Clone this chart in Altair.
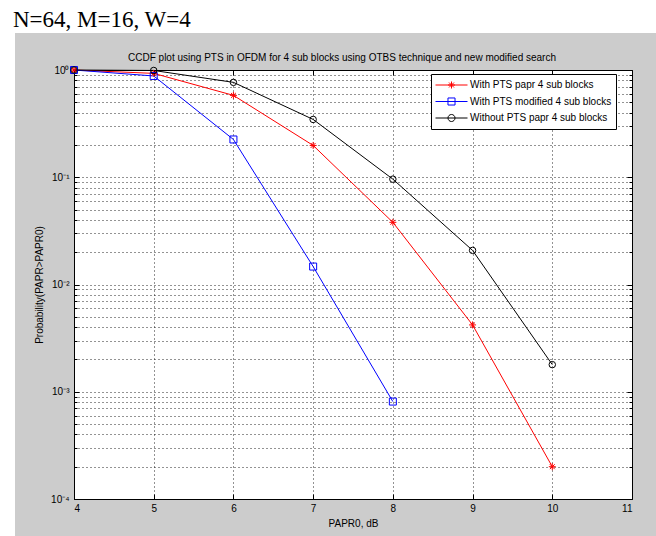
import altair as alt
import pandas as pd

# CCDF of PAPR, N=64 subcarriers, 16-QAM, W=4 phase factors
papr0 = [4, 5, 6, 7, 8, 9, 10]
ccdf_pts = [1.0, 0.93, 0.58, 0.198, 0.038, 0.0042, 0.0002]
papr0_mod = [4, 5, 6, 7, 8]
ccdf_pts_mod = [1.0, 0.88, 0.225, 0.0147, 0.00081]
ccdf_no_pts = [1.0, 0.99, 0.767, 0.346, 0.096, 0.0208, 0.00179]

series_names = [
    "With PTS papr 4 sub blocks",
    "With PTS modified 4 sub blocks",
    "Without PTS papr 4 sub blocks",
]
series_colors = ["#ff0000", "#0000ff", "#000000"]

x_ticks = [4, 5, 6, 7, 8, 9, 10, 11]
y_decades = [1e-4, 1e-3, 1e-2, 1e-1, 1.0]
y_minor = [m * d for d in y_decades[:-1] for m in range(2, 10)]

rows = []
for name, xs, ys in zip(series_names,
                        [papr0, papr0_mod, papr0],
                        [ccdf_pts, ccdf_pts_mod, ccdf_no_pts]):
    for xv, yv in zip(xs, ys):
        rows.append({"papr0": xv, "p": yv, "series": name})
df = pd.DataFrame(rows)
one = pd.DataFrame({"k": [0]})

W, H = 558, 429
FONT = "Liberation Sans"

x_scale = alt.Scale(domain=[4, 11], nice=False, zero=False)
y_scale = alt.Scale(type="log", domain=[1e-4, 1], nice=False)

color_scale = alt.Scale(domain=series_names, range=series_colors)

STAR = "M-1,0H1M0,-1V1M-0.7,-0.7L0.7,0.7M-0.7,0.7L0.7,-0.7"
LEG_STAR = ("M-1,0H1M-0.22,0H0.22M0,-0.22V0.22"
            "M-0.155,-0.155L0.155,0.155M-0.155,0.155L0.155,-0.155")
LEG_SQUARE = "M-1,0H1M-0.22,-0.22H0.22V0.22H-0.22Z"
LEG_CIRCLE = "M-1,0H1M0.22,0A0.22,0.22 0 1,1 -0.22,0A0.22,0.22 0 1,1 0.22,0"
shape_scale = alt.Scale(domain=series_names, range=[LEG_STAR, LEG_SQUARE, LEG_CIRCLE])

e = "round(log(datum.value)/LN10)"
sup = {0: "⁰", -1: "⁻¹", -2: "⁻²", -3: "⁻³", -4: "⁻⁴"}
label_expr = (f"abs(log(datum.value)/LN10 - {e}) > 0.01 ? '' : "
              + " : ".join(f"{e} == {k} ? '10{v}'" for k, v in sup.items())
              + " : ''")

grid_style = dict(grid=True, gridColor="#000000", gridDash=[1, 3],
                  gridWidth=1, gridOpacity=0.85)

main_x_axis = alt.Axis(orient="bottom", values=x_ticks, format="d",
                       ticks=False, domain=False, labelFont=FONT,
                       labelFontSize=10, labelColor="black", labelPadding=4,
                       title="PAPR0, dB", titleFont=FONT, titleFontSize=10,
                       titleFontWeight="normal", titleColor="black",
                       titlePadding=5, **grid_style)
main_y_axis = alt.Axis(orient="left", values=y_decades + y_minor,
                       labelExpr=label_expr, ticks=False, domain=False,
                       labelFont=FONT, labelFontSize=10, labelColor="black",
                       labelPadding=5, labelBaseline="middle",
                       title="Probability(PAPR>PAPR0)", titleFont=FONT,
                       titleFontSize=10, titleFontWeight="normal",
                       titleColor="black", titlePadding=6, **grid_style)


def tick_axis(orient, offset, values, size):
    # bare axis used only for its tick marks, shifted onto the opposite frame
    # edge so that the ticks point into the plot
    return alt.Axis(orient=orient, offset=offset, values=values, labels=False,
                    domain=False, grid=False, ticks=True, tickColor="black",
                    tickWidth=1, tickSize=size, title=None)


# white page strips around the grey figure panel
top_strip = alt.Chart(one).mark_rect(color="white").encode(
    x=alt.value(-74), x2=alt.value(W + 24), y=alt.value(-70), y2=alt.value(-37))
left_strip = alt.Chart(one).mark_rect(color="white").encode(
    x=alt.value(-74), x2=alt.value(-59), y=alt.value(-37), y2=alt.value(H + 37))
header = alt.Chart(one).mark_text(
    text="N=64, M=16, W=4", font="Liberation Serif", fontSize=23,
    align="left", baseline="alphabetic", color="black",
).encode(x=alt.value(-61), y=alt.value(-43))
plot_title = alt.Chart(one).mark_text(
    text="CCDF plot using PTS in OFDM for 4 sub blocks using OTBS technique and new modified search",
    font=FONT, fontSize=10, align="center", baseline="middle", color="black",
).encode(x=alt.value(268), y=alt.value(-12))

base = alt.Chart(df)

legend = alt.Legend(
    title=None, orient="none", legendX=357, legendY=4,
    fillColor="white", strokeColor="black", padding=4, cornerRadius=0,
    labelFont=FONT, labelFontSize=10, labelColor="black", labelOffset=2,
    symbolSize=1024, symbolStrokeWidth=1, symbolOffset=0,
    clipHeight=14, rowPadding=2.5, symbolOpacity=1, symbolFillColor="transparent",
)

# draws nothing itself; carries the legend (line + marker samples)
legend_layer = base.transform_filter("false").mark_point(
    size=1024, filled=False, strokeWidth=1,
).encode(
    x=alt.X("papr0:Q", scale=x_scale, axis=None),
    y=alt.Y("p:Q", scale=y_scale, axis=tick_axis("left", -W, y_minor, 3)),
    color=alt.Color("series:N", scale=color_scale, legend=legend),
    shape=alt.Shape("series:N", scale=shape_scale, legend=legend),
)

lines = base.mark_line(strokeWidth=1).encode(
    x=alt.X("papr0:Q", scale=x_scale, axis=main_x_axis),
    y=alt.Y("p:Q", scale=y_scale, axis=main_y_axis),
    color=alt.Color("series:N", scale=color_scale, legend=legend),
    order="papr0:Q",
)

red_pts = base.transform_filter(alt.datum.series == series_names[0]).mark_point(
    shape=STAR, size=49, filled=False, strokeWidth=1, color=series_colors[0], opacity=1,
).encode(
    x=alt.X("papr0:Q", scale=x_scale, axis=tick_axis("top", -H, x_ticks, 5)),
    y=alt.Y("p:Q", scale=y_scale, axis=tick_axis("right", -W, y_decades, 5)),
)
blue_pts = base.transform_filter(alt.datum.series == series_names[1]).mark_point(
    shape="square", size=49, filled=False, strokeWidth=1, color=series_colors[1], opacity=1,
).encode(
    x=alt.X("papr0:Q", scale=x_scale, axis=tick_axis("bottom", -H, x_ticks, 5)),
    y=alt.Y("p:Q", scale=y_scale, axis=tick_axis("left", -W, y_decades, 5)),
)
black_pts = base.transform_filter(alt.datum.series == series_names[2]).mark_point(
    shape="circle", size=42, filled=False, strokeWidth=1, color=series_colors[2], opacity=1,
).encode(
    x=alt.X("papr0:Q", scale=x_scale, axis=None),
    y=alt.Y("p:Q", scale=y_scale, axis=tick_axis("right", -W, y_minor, 3)),
)

chart = alt.layer(
    legend_layer, top_strip, left_strip, header, plot_title,
    lines, red_pts, blue_pts, black_pts,
).resolve_axis(
    x="independent", y="independent",
).properties(
    width=W, height=H,
    background="#cccccc",
    padding={"left": 74, "top": 70, "right": 24, "bottom": 37},
    autosize=alt.AutoSizeParams(type="none"),
).configure_view(
    fill="white", stroke="#000000", strokeWidth=1,
)

chart.save("out.html", embed_options={"renderer": "svg", "actions": False})
